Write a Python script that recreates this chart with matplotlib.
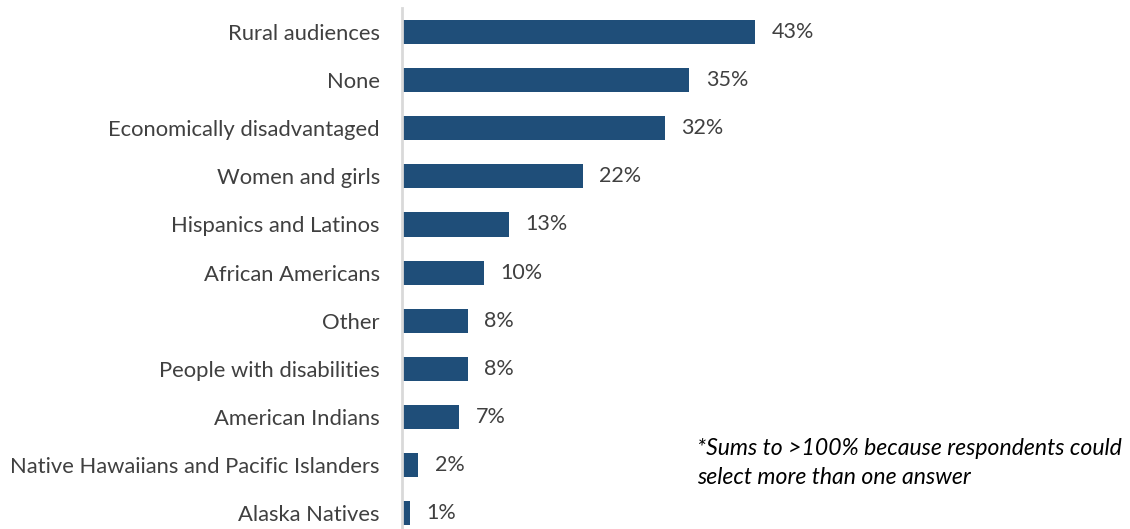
import numpy as np
from matplotlib import pyplot as plt

categories = ['Rural audiences', 'None', 'Economically disadvantaged', 'Women and girls',
              'Hispanics and Latinos', 'African Americans', 'Other', 'People with disabilities',
              'American Indians', 'Native Hawaiians and Pacific Islanders', 'Alaska Natives']
values = [43, 35, 32, 22, 13, 10, 8, 8, 7, 2, 1]
note = '*Sums to >100% because respondents could\nselect more than one answer'

plt.rcParams['font.family'] = ['Lato', 'DejaVu Sans']

W, H = 1130, 529
fig = plt.figure(figsize=(W / 100, H / 100), dpi=100)
ax = fig.add_axes([402 / W, 0, (1100 - 402) / W, (H - 8) / H])

ypos = np.arange(len(categories))
ax.barh(ypos, values, height=0.5, color='#1F4E79')
ax.set_ylim(10.33, -0.5)
ax.set_xlim(0, 85)

for y, v in zip(ypos, values):
	ax.text(v + 2, y, '%d%%' % v, va='center', ha='left', fontsize=15.5, color='#404040')

ax.set_yticks(ypos)
ax.set_yticklabels(categories, fontsize=15.8, color='#404040')
ax.tick_params(axis='y', length=0, pad=16)
ax.set_xticks([])
for s in ['top', 'right', 'bottom']:
	ax.spines[s].set_visible(False)
ax.spines['left'].set_color('#d9d9d9')
ax.spines['left'].set_linewidth(2)

fig.text(697 / W, 1 - 463 / H, note, fontsize=16.6, style='italic', color='black',
         va='center', ha='left', linespacing=1.45)

fig.savefig('out.png', dpi=100)
